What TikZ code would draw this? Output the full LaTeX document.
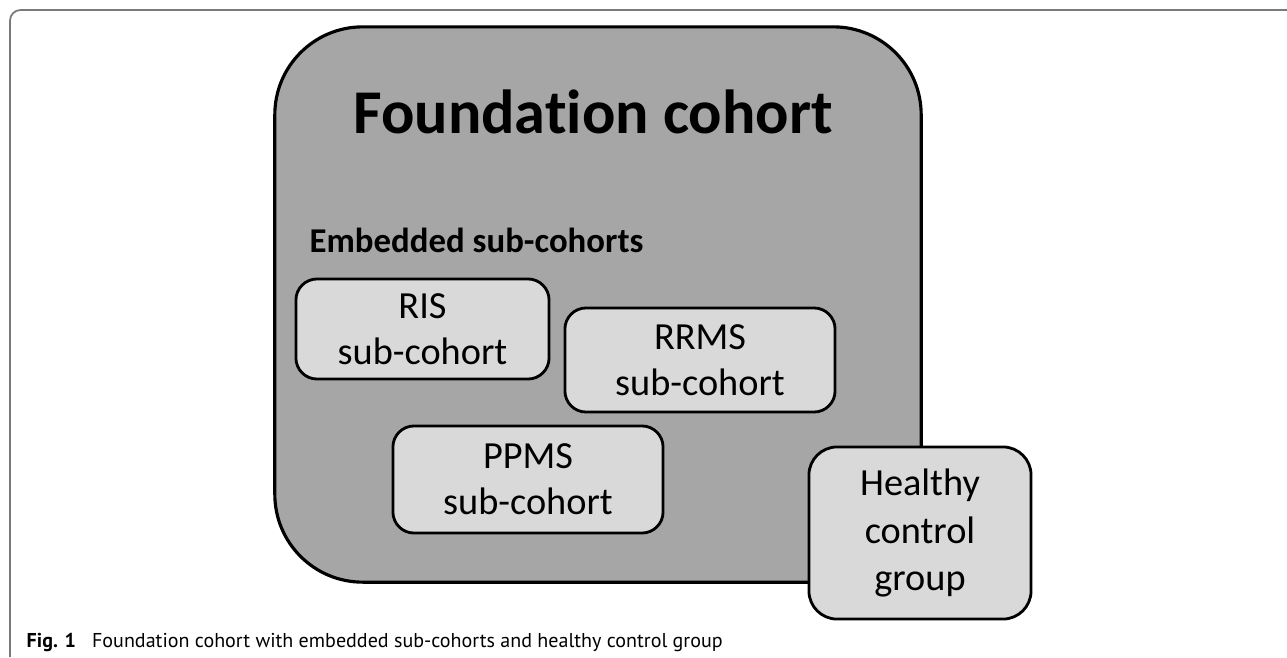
\documentclass[tikz,border=0pt]{standalone}
\usepackage{fontspec}
\setmainfont{Carlito}[Ligatures=NoCommon]
\newfontfamily\capfont{PT Sans}
\usetikzlibrary{positioning}
\definecolor{bigfill}{HTML}{A6A6A6}
\definecolor{subfill}{HTML}{D9D9D9}
\definecolor{framegray}{HTML}{7A7A7A}
\tikzset{
  cohort/.style={
    rectangle,
    rounded corners=25pt,
    fill=bigfill,
    draw=black, line width=0.9pt,
    minimum width=6.46cm,
    minimum height=5.55cm},
  subbox/.style={
    rectangle,
    rounded corners=6pt,
    fill=subfill,
    draw=black, line width=0.8pt,
    align=center,
    inner sep=0pt,
    font=\fontsize{10.9}{13.1}\selectfont},
  title/.style={font=\bfseries\fontsize{17.7}{20}\selectfont, inner sep=0pt},
  subtitle/.style={font=\bfseries\fontsize{9.9}{12}\selectfont, inner sep=0pt},
  caption/.style={font=\capfont\fontsize{5.7}{7}\selectfont, inner sep=0pt},
  pageframe/.style={draw=framegray, line width=0.5pt, rounded corners=3pt},
}
\begin{document}
\begin{tikzpicture}[x=0.01cm, y=-0.01cm]
  \useasboundingbox (0,0) rectangle (1287,657);
  % frame of the figure page
  \draw[pageframe] (1287,10) -- (10,10) -- (10,657);
  % the foundation cohort
  \node[cohort] (found) at (598,304.5) {};
  \node[title, anchor=base] (foundtitle) at (593,133) {Foundation cohort};
  \node[subtitle, anchor=base west] (embedded) at (309,252) {Embedded sub-cohorts};
  %% the embedded sub-cohorts
  \node[subbox, minimum width=2.53cm, minimum height=1.00cm] (ris) at (422.5,329) {RIS\\sub-cohort};
  \node[subbox, minimum width=2.70cm, minimum height=1.04cm] (rrms) at (700,360) {RRMS\\sub-cohort};
  \node[subbox, minimum width=2.70cm, minimum height=1.07cm] (ppms) at (528,479.5) {PPMS\\sub-cohort};
  %% the control group, outside the cohort
  \node[subbox, rounded corners=8pt, minimum width=2.22cm, minimum height=1.72cm,
    font=\fontsize{10.9}{13.6}\selectfont] (healthy) at (920,533) {Healthy\\control\\group};
  % caption
  \node[caption, anchor=base west] (figcap) at (26,647)
    {\textbf{Fig. 1}\hspace{0.8em}Foundation cohort with embedded sub-cohorts and healthy control group};
\end{tikzpicture}
\end{document}
